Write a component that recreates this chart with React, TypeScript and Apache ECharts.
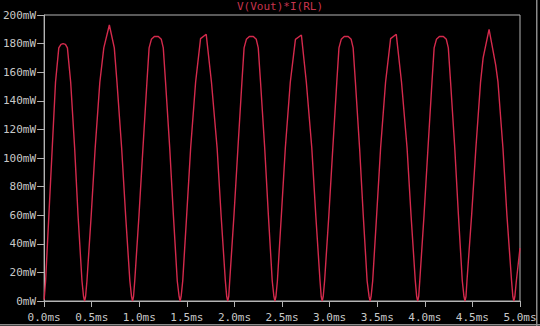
import React, { useEffect, useRef } from "react";
import * as echarts from "echarts";

const titleText = "V(Vout)*I(RL)";
const xTickValues = [0, 0.5, 1, 1.5, 2, 2.5, 3, 3.5, 4, 4.5, 5];
const yTickValues = [0, 20, 40, 60, 80, 100, 120, 140, 160, 180, 200];

// time in ms
const timeMs = [
  0.0, 0.0156, 0.05, 0.0854, 0.1198, 0.1542, 0.1771, 0.2, 0.224, 0.2448, 0.2792, 0.3208, 0.3563, 0.3979, 0.4146, 0.425, 0.4354,
  0.45, 0.4948, 0.5365, 0.5854, 0.6271, 0.6854, 0.7375, 0.7656, 0.8146, 0.8563, 0.901, 0.9186, 0.929, 0.9394,
  0.9521, 0.9969, 1.0385, 1.0802, 1.1031, 1.1271, 1.1583, 1.2, 1.2313, 1.2521, 1.276, 1.3198, 1.3583, 1.399, 1.4186, 1.429, 1.4394,
  1.4563, 1.4979, 1.5396, 1.5917, 1.6438, 1.7031, 1.7583, 1.8177, 1.8594, 1.9042, 1.9188, 1.9292, 1.9396,
  1.95, 1.9948, 2.0365, 2.0781, 2.101, 2.125, 2.1563, 2.1979, 2.2292, 2.25, 2.274, 2.3177, 2.3563, 2.3969, 2.4146, 2.425, 2.4354,
  2.451, 2.4927, 2.5344, 2.5865, 2.6406, 2.7031, 2.7552, 2.8125, 2.8542, 2.899, 2.9115, 2.9219, 2.9323,
  2.9469, 2.9917, 3.0333, 3.075, 3.0979, 3.1219, 3.1531, 3.1948, 3.226, 3.2469, 3.2708, 3.3146, 3.3531, 3.3938, 3.4146, 3.425, 3.4354,
  3.4521, 3.4938, 3.5354, 3.5875, 3.6406, 3.7, 3.7552, 3.8135, 3.8552, 3.9, 3.9146, 3.925, 3.9354,
  3.9469, 3.9917, 4.0333, 4.075, 4.0979, 4.1219, 4.1531, 4.1948, 4.226, 4.2469, 4.2708, 4.3146, 4.3531, 4.3938, 4.4115, 4.4219, 4.4323,
  4.4427, 4.4917, 4.5365, 4.5854, 4.6125, 4.675, 4.7448, 4.7688, 4.8208, 4.8625, 4.9115, 4.925, 4.9354, 4.9458,
  4.9615, 5.0,
];

// power in mW
const powerMw = [
  1, 14, 60, 107, 153, 177, 179.5, 180, 179.5, 177, 153, 107, 60, 14, 3, 0, 3,
  14, 60, 107, 153, 177, 193, 177, 153, 107, 60, 14, 3, 0, 3,
  14, 60, 107, 153, 177, 183, 185, 185, 183, 177, 153, 107, 60, 14, 3, 0, 3,
  14, 60, 107, 153, 183.5, 186.5, 153, 107, 60, 14, 3, 0, 3,
  14, 60, 107, 153, 177, 183, 185, 185, 183, 177, 153, 107, 60, 14, 3, 0, 3,
  14, 60, 107, 153, 183, 186, 153, 107, 60, 14, 3, 0, 3,
  14, 60, 107, 153, 177, 183, 185, 185, 183, 177, 153, 107, 60, 14, 3, 0, 3,
  14, 60, 107, 153, 183.5, 186.5, 153, 107, 60, 14, 3, 0, 3,
  14, 60, 107, 153, 177, 183, 185, 185, 183, 177, 153, 107, 60, 14, 3, 0, 3,
  14, 60, 107, 153, 170, 190, 165, 153, 107, 60, 14, 3, 0, 3,
  14, 37,
];

const MONO = "'DejaVu Sans Mono', monospace";
const AXIS_GRAY = "#b4b4b4";
const LABEL_GRAY = "#c8c8c8";
const TRACE_RED = "#d42a4c";
const TITLE_RED = "#c8344e";

export default function App() {
  const ref = useRef<HTMLDivElement>(null);

  useEffect(() => {
    if (!ref.current) return;
    const chart = echarts.init(ref.current, undefined, { renderer: "svg" });
    const data = timeMs.map((t, i) => [t, powerMw[i]]);
    chart.setOption({
      animation: false,
      backgroundColor: "#000000",
      title: {
        text: titleText,
        left: 237,
        top: 1,
        padding: 0,
        textStyle: {
          color: TITLE_RED,
          fontFamily: MONO,
          fontSize: 11,
          fontWeight: "normal",
        },
      },
      grid: {
        left: 40.5,
        right: 20,
        top: 15,
        bottom: 25,
        show: true,
        borderColor: AXIS_GRAY,
        borderWidth: 1,
        backgroundColor: "transparent",
      },
      xAxis: {
        type: "value",
        min: 0,
        max: 5,
        interval: 0.5,
        axisLine: { show: true, lineStyle: { color: AXIS_GRAY, width: 1 } },
        axisTick: { show: true, length: 6, lineStyle: { color: AXIS_GRAY } },
        splitLine: { show: false },
        axisLabel: {
          color: LABEL_GRAY,
          fontFamily: MONO,
          fontSize: 11,
          margin: 11,
          showMinLabel: true,
          showMaxLabel: true,
          formatter: (v: number) =>
            xTickValues.includes(v) ? v.toFixed(1) + "ms" : "",
        },
      },
      yAxis: {
        type: "value",
        min: 0,
        max: 200,
        interval: 20,
        axisLine: { show: true, lineStyle: { color: AXIS_GRAY, width: 1 } },
        axisTick: { show: true, length: 7, lineStyle: { color: AXIS_GRAY } },
        splitLine: { show: false },
        axisLabel: {
          color: LABEL_GRAY,
          fontFamily: MONO,
          fontSize: 11,
          margin: 8,
          formatter: (v: number) =>
            yTickValues.includes(v) ? v + "mW" : "",
        },
      },
      series: [
        {
          type: "line",
          data,
          showSymbol: false,
          symbol: "none",
          smooth: false,
          lineStyle: { color: TRACE_RED, width: 1.4 },
          clip: true,
        },
      ],
      graphic: [
        {
          type: "rect",
          shape: { x: 536, y: 0, width: 1.5, height: 326 },
          style: { fill: "#8a8a8a" },
          silent: true,
        },
        {
          type: "rect",
          shape: { x: 0, y: 324, width: 540, height: 1.5 },
          style: { fill: "#8a8a8a" },
          silent: true,
        },
      ],
    });
    return () => chart.dispose();
  }, []);

  return (
    <div
      ref={ref}
      style={{ position: "fixed", left: 0, top: 0, width: 540, height: 326 }}
    />
  );
}
